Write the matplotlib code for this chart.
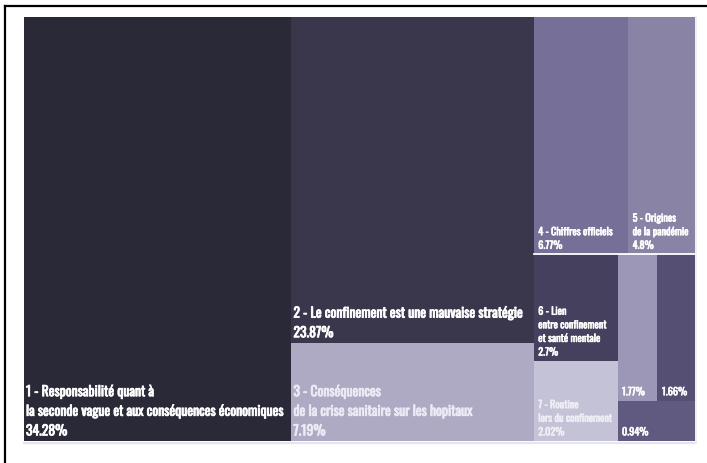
import matplotlib.pyplot as plt
import matplotlib.patheffects as pe
from matplotlib.patches import Rectangle
from matplotlib.lines import Line2D

# data: themes and their share (%)
labels = [
    "1 - Responsabilité quant à\nla seconde vague et aux conséquences économiques",
    "2 - Le confinement est une mauvaise stratégie",
    "3 - Conséquences\nde la crise sanitaire sur les hopitaux",
    "4 - Chiffres officiels",
    "5 - Origines\nde la pandémie",
    "6 - Lien\nentre confinement\net santé mentale",
    "7 - Routine\nlors du confinement",
    "",
    "",
    "",
]
shares = [34.28, 23.87, 7.19, 6.77, 4.8, 2.7, 2.02, 1.77, 1.66, 0.94]

tile_colors = ["#2a2938", "#3a364c", "#aeaac4", "#766f98", "#8983a6",
               "#45405d", "#c4c2d6", "#9c97b6", "#554f74", "#605a80"]
text_colors = ["white", "white", "#eceaf4", "white", "white",
               "white", "#f0eff6", "white", "white", "white"]
big_text = [True, True, True, False, False, False, False, False, False, False]

# how the tiles are nested (columns / rows alternate)
groups = [0, [1, 2], [[3, 4], [[5, 6], [[7, 8], 9]]]]

font = ["Oswald", "Fjalla One", "Open Sans Condensed", "DejaVu Sans"]


def total(node):
    if isinstance(node, int):
        return shares[node]
    return sum(total(n) for n in node)


rects = {}


def split(node, x0, y0, x1, y1, across):
    if isinstance(node, int):
        rects[node] = (x0, y0, x1, y1)
        return
    t = total(node)
    pos = x0 if across else y0
    for child in node:
        f = total(child) / t
        if across:
            step = (x1 - x0) * f
            split(child, pos, y0, pos + step, y1, False)
        else:
            step = (y1 - y0) * f
            split(child, x0, pos, x1, pos + step, True)
        pos += step


split(groups, 0, 0, 1, 1, True)

fig = plt.figure(figsize=(7.07, 4.63), dpi=100)
ax = fig.add_axes([24 / 707, 22 / 463, 671 / 707, 424 / 463])
ax.set_xlim(0, 1)
ax.set_ylim(1, 0)
ax.axis("off")

for i in range(len(shares)):
    x0, y0, x1, y1 = rects[i]
    ax.add_patch(Rectangle((x0, y0), x1 - x0, y1 - y0,
                           facecolor=tile_colors[i], edgecolor="none"))
    pct = f"{shares[i]:g}%"
    txt = labels[i] + "\n" + pct if labels[i] else pct
    if big_text[i]:
        size, ls, pad, stroke = 9.9, 1.6, 1.4, 0.55
    else:
        size, ls, pad, stroke = 7.4, 1.45, 3.2, 0.4
    t = ax.annotate(txt, (x0, y1), xytext=(pad, 2.6), textcoords="offset points",
                    ha="left", va="bottom", fontsize=size, linespacing=ls,
                    color=text_colors[i], family=font)
    # thicken the strokes a little, the original font is heavier
    t.set_path_effects([pe.withStroke(linewidth=stroke, foreground=text_colors[i])])

# white gap under the top row of the right column
yb = rects[3][3]
ax.plot([rects[3][0], 1], [yb, yb], color="white", lw=1.3)

# faint edge under and right of the treemap
ax.plot([0, 1.002], [1.004, 1.004], color="#e4e4ea", lw=1.6, clip_on=False)
ax.plot([1.002, 1.002], [0, 1.004], color="#ececf0", lw=1.2, clip_on=False)

# frame of the screenshot (left and top only)
fig.add_artist(Line2D([4.5 / 707, 4.5 / 707], [0, 1 - 6 / 463], color="black", lw=1.6))
fig.add_artist(Line2D([4.5 / 707, 1], [1 - 6 / 463, 1 - 6 / 463], color="black", lw=1.6))

fig.savefig("out.png", dpi=100)
